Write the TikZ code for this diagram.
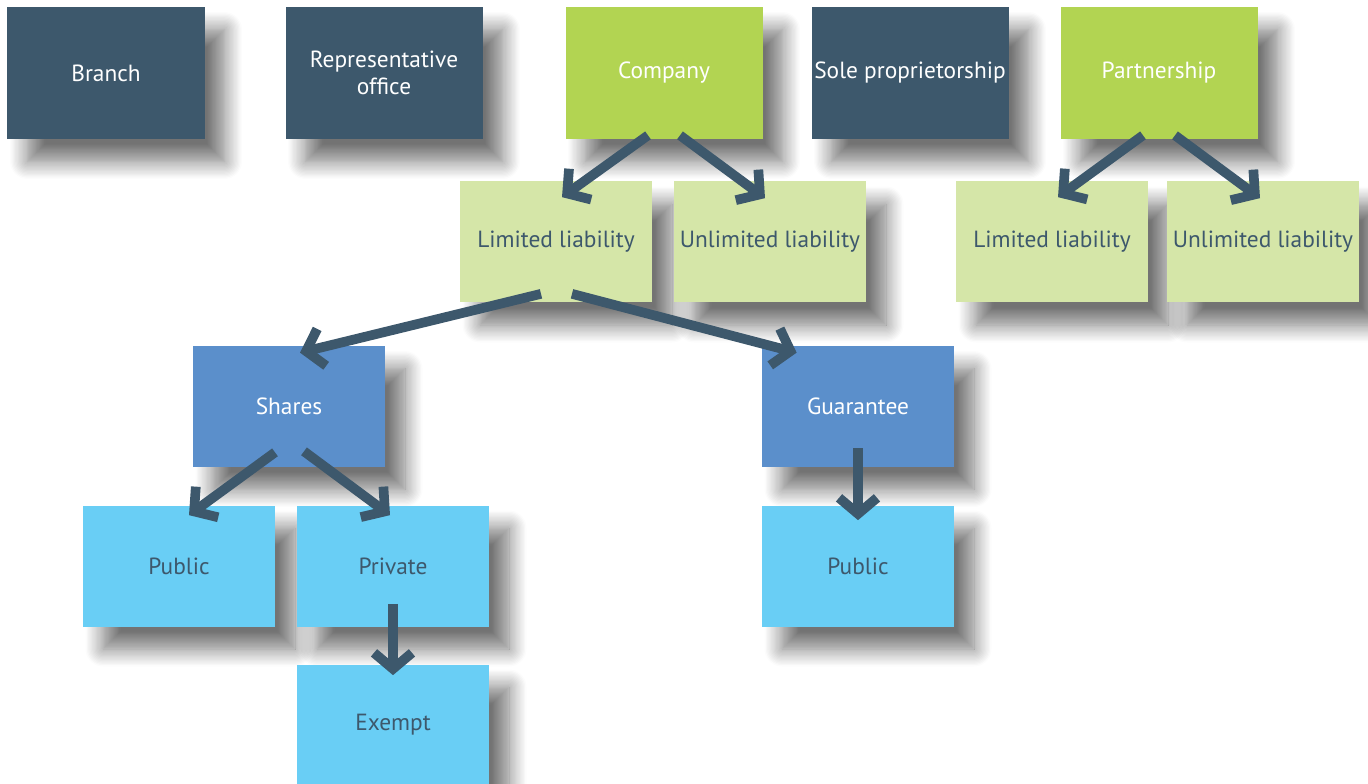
\documentclass[tikz,border=0pt]{standalone}
\usepackage{fontspec}
\setmainfont{PT Sans}
\usetikzlibrary{arrows.meta,positioning,calc,shadows.blur}
\definecolor{slate}{HTML}{3D586C}
\definecolor{leaf}{HTML}{B2D452}
\definecolor{paleleaf}{HTML}{D5E6A8}
\definecolor{midblue}{HTML}{5B8FCB}
\definecolor{skyblue}{HTML}{69CEF5}

\begin{document}
\begin{tikzpicture}[
  box/.style={minimum width=38.4mm, minimum height=24.2mm, inner sep=0pt, align=center, font=\fontsize{13.3}{15.5}\selectfont,
    blur shadow={shadow xshift=4mm, shadow yshift=-4.5mm, shadow blur radius=3.5mm, shadow blur steps=14, shadow opacity=55}},
  big/.style={box, minimum width=39.4mm, minimum height=26.4mm, text=white},
  dk/.style={big, fill=slate},
  gr/.style={big, fill=leaf},
  lg/.style={box, fill=paleleaf, text=slate},
  bl/.style={box, fill=midblue, text=white},
  lb/.style={box, fill=skyblue, text=slate},
  arr/.style={-{Straight Barb[sharp, length=3.2mm, width=7.6mm]}, line width=5.5pt, draw=slate}
]
\useasboundingbox (0,0) rectangle (27.36,-15.68);
% top row
\node[dk] (br)   at (2.12,-1.46)  {Branch};
\node[dk] (rep)  at (7.68,-1.46)  {Representative\\office};
\node[gr] (co)   at (13.28,-1.46) {Company};
\node[dk] (sole) at (18.20,-1.46) {Sole proprietorship};
\node[gr] (part) at (23.18,-1.46) {Partnership};
% liability
\node[lg] (cll) at (11.12,-4.84) {Limited liability};
\node[lg] (cul) at (15.40,-4.84) {Unlimited liability};
\node[lg] (pll) at (21.04,-4.84) {Limited liability};
\node[lg] (pul) at (25.26,-4.84) {Unlimited liability};
% limited by
\node[bl] (sh) at (5.78,-8.13)  {Shares};
\node[bl] (gu) at (17.16,-8.13) {Guarantee};
% kinds
\node[lb] (pub)  at (3.58,-11.32)  {Public};
\node[lb] (priv) at (7.86,-11.32)  {Private};
\node[lb] (gpub) at (17.16,-11.32) {Public};
\node[lb] (ex)   at (7.86,-14.50)  {Exempt};

\draw[arr] ($(co.south)+(-0.32,0.08)$) -- ($(cll.north)+(0.12,-0.32)$);
\draw[arr] ($(co.south)+(0.32,0.08)$) -- ($(cul.north)+(-0.10,-0.34)$);
\draw[arr] ($(part.south)+(-0.32,0.08)$) -- ($(pll.north)+(0.12,-0.32)$);
\draw[arr] ($(part.south)+(0.32,0.08)$) -- ($(pul.north)+(-0.06,-0.34)$);
\draw[arr] ($(cll.south)+(-0.30,0.18)$) -- ($(sh.north)+(0.22,-0.14)$);
\draw[arr] ($(cll.south)+(0.32,0.18)$) -- ($(gu.north west)+(0.70,-0.14)$);
\draw[arr] ($(sh.south)+(-0.28,0.30)$) -- ($(pub.north)+(0.20,-0.20)$);
\draw[arr] ($(sh.south)+(0.30,0.32)$) -- ($(priv.north)+(-0.06,-0.20)$);
\draw[arr] ($(gu.south)+(0,0.38)$) -- ($(gpub.north)+(0,-0.30)$);
\draw[arr] ($(priv.south)+(0,0.46)$) -- ($(ex.north)+(0,-0.22)$);
\end{tikzpicture}
\end{document}
